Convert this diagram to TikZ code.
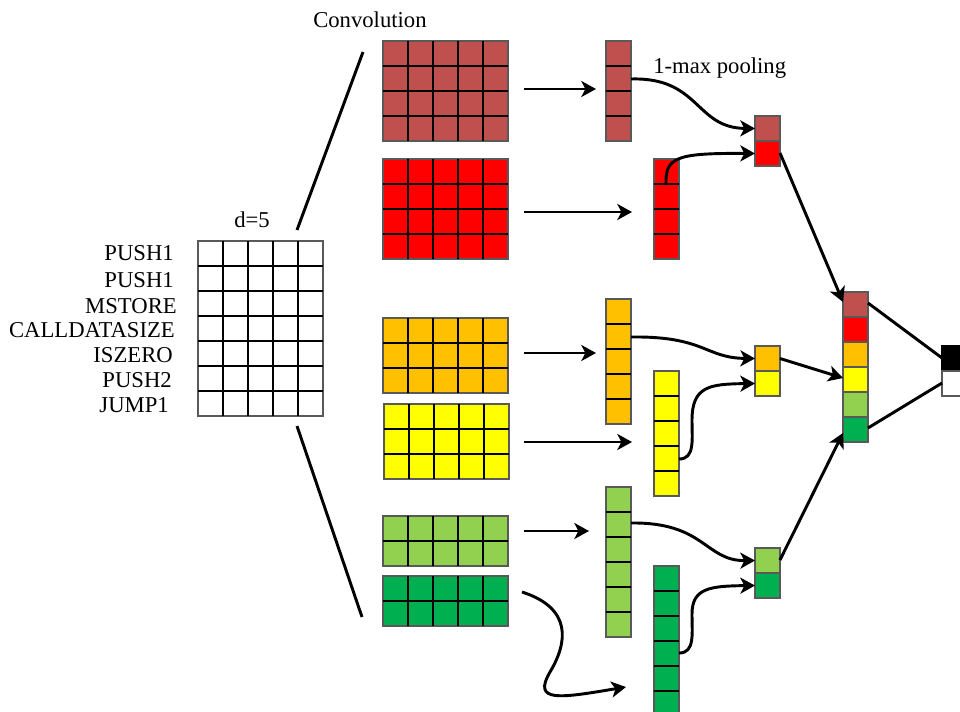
\documentclass[tikz,border=0pt]{standalone}
\usepackage{fontspec}
\setmainfont{Liberation Serif}
\usetikzlibrary{calc,arrows.meta}
\definecolor{brownc}{HTML}{C0504D}
\definecolor{redc}{HTML}{FF0000}
\definecolor{orangec}{HTML}{FFC000}
\definecolor{yellowc}{HTML}{FFFF00}
\definecolor{lgreenc}{HTML}{92D050}
\definecolor{dgreenc}{HTML}{00B050}
\tikzset{
  cellbox/.style={draw=black!65, line width=0.8pt, inner sep=0pt, outer sep=0pt},
  gridline/.style={draw=black, line width=0.8pt},
  lbl/.style={inner sep=0pt, font=\fontsize{17}{20}\selectfont},
  conn/.style={line width=2.2pt, -{Stealth[length=11pt,width=12pt,inset=3pt]}},
  plainline/.style={line width=2.2pt},
}
\newcommand{\fmap}[6]{%
  \node[cellbox, fill=#6, minimum width=#4*18.75pt, minimum height=#5*18.75pt, anchor=north west] (#1) at (#2,#3) {};%
  \pgfmathtruncatemacro{\nc}{#4-1}%
  \pgfmathtruncatemacro{\nr}{#5-1}%
  \ifnum\nc>0 \foreach \i in {1,...,\nc}{\draw[gridline] ($(#1.north west)+(\i*25,0)$) -- ($(#1.south west)+(\i*25,0)$);}\fi
  \ifnum\nr>0 \foreach \j in {1,...,\nr}{\draw[gridline] ($(#1.north west)+(0,\j*25)$) -- ($(#1.north east)+(0,\j*25)$);}\fi
}
\begin{document}
\begin{tikzpicture}[x=0.75pt,y=-0.75pt]
\clip (0,0) rectangle (960,711);
\fill[white] (0,0) rectangle (960,711);

% input matrix and labels
\fmap{inp}{198}{241}{5}{7}{white}
\node[lbl, anchor=base east] (l1) at (174,260) {PUSH1};
\node[lbl, anchor=base east] (l2) at (174,287) {PUSH1};
\node[lbl, anchor=base east] (l3) at (177,313) {MSTORE};
\node[lbl, anchor=base east] (l4) at (175,337) {CALLDATASIZE};
\node[lbl, anchor=base east] (l5) at (173,362) {ISZERO};
\node[lbl, anchor=base east] (l6) at (172,387) {PUSH2};
\node[lbl, anchor=base east] (l7) at (169,412) {JUMP1};
\node[lbl, anchor=base west] (dlab) at (234,227) {d=5};
\node[lbl, anchor=base west] (convlab) at (313,27) {Convolution};
\node[lbl, anchor=base west] (poollab) at (653,73) {1-max pooling};

% convolution bracket lines
\coordinate (cu1) at (297,230);
\coordinate (cu2) at (363,52);
\coordinate (cd1) at (297,426);
\coordinate (cd2) at (362,617);
\draw[plainline] (cu1) -- (cu2);
\draw[plainline] (cd1) -- (cd2);

% feature maps
\fmap{m1}{383}{41}{5}{4}{brownc}
\fmap{m2}{383}{159}{5}{4}{redc}
\fmap{m3}{383}{318}{5}{3}{orangec}
\fmap{m4}{384}{404}{5}{3}{yellowc}
\fmap{m5}{383}{516}{5}{2}{lgreenc}
\fmap{m6}{383}{576}{5}{2}{dgreenc}

% vectors
\fmap{v1}{606}{41}{1}{4}{brownc}
\fmap{v2}{654}{159}{1}{4}{redc}
\fmap{v3}{606}{299}{1}{5}{orangec}
\fmap{v4}{654}{371}{1}{5}{yellowc}
\fmap{v5}{606}{487}{1}{6}{lgreenc}
\fmap{v6}{654}{566}{1}{6}{dgreenc}

% pooled cells
\fmap{p1a}{755}{116}{1}{1}{brownc}
\fmap{p1b}{755}{141}{1}{1}{redc}
\fmap{p2a}{755}{346}{1}{1}{orangec}
\fmap{p2b}{755}{371}{1}{1}{yellowc}
\fmap{p3a}{755}{548}{1}{1}{lgreenc}
\fmap{p3b}{755}{573}{1}{1}{dgreenc}

% concatenated vector
\fmap{c1}{843}{292}{1}{1}{brownc}
\fmap{c2}{843}{317}{1}{1}{redc}
\fmap{c3}{843}{342}{1}{1}{orangec}
\fmap{c4}{843}{367}{1}{1}{yellowc}
\fmap{c5}{843}{392}{1}{1}{lgreenc}
\fmap{c6}{843}{417}{1}{1}{dgreenc}

% output
\node[cellbox, draw=black, fill=black, minimum width=18.75pt, minimum height=18.75pt, anchor=north west] (o1) at (942,346) {};
\node[cellbox, fill=white, minimum width=18.75pt, minimum height=18.75pt, anchor=north west] (o2) at (942,371) {};

% straight arrows map -> vector
\coordinate (a1s) at (524,89);  \coordinate (a1e) at (596,89);
\coordinate (a2s) at (524,212); \coordinate (a2e) at (632,212);
\coordinate (a3s) at (524,353); \coordinate (a3e) at (596,353);
\coordinate (a4s) at (524,442); \coordinate (a4e) at (632,442);
\coordinate (a5s) at (524,531); \coordinate (a5e) at (589,531);
\coordinate (a6s) at (522,592); \coordinate (a6e) at (626,687);
\draw[conn] (a1s) -- (a1e);
\draw[conn] (a2s) -- (a2e);
\draw[conn] (a3s) -- (a3e);
\draw[conn] (a4s) -- (a4e);
\draw[conn] (a5s) -- (a5e);
\draw[conn] (a6s) .. controls (572,608) and (568,642) .. (550,672) .. controls (532,703) and (560,698) .. (a6e);

% pooling curves
\draw[conn] (v1.east |- 0,79) .. controls (700,77) and (695,128) .. (p1a.west);
\draw[conn] (666,185) .. controls (665,157) and (676,153) .. (p1b.west);
\draw[conn] (v3.east |- 0,337) .. controls (705,336) and (705,358) .. (p2a.west);
\draw[conn] (v4.east |- 0,459) .. controls (695,459) and (692,440) .. (692,420) .. controls (692,386) and (710,384) .. (p2b.west);
\draw[conn] (v5.east |- 0,523) .. controls (705,522) and (705,561) .. (p3a.west);
\draw[conn] (v6.east |- 0,653) .. controls (695,653) and (692,634) .. (692,614) .. controls (692,588) and (710,586) .. (p3b.west);

% pooled -> concat
\draw[conn] (p1b.east |- 0,153) -- (c1.west |- 0,302);
\draw[conn] (p2a.east) -- (c4.west |- 0,378);
\draw[conn] (p3a.east |- 0,560) -- (c6.west |- 0,433);

% concat -> output
\draw[plainline] (c1.east |- 0,303) -- (o1.west |- 0,358);
\draw[plainline] (c6.east |- 0,428) -- (o2.west |- 0,383);
\end{tikzpicture}
\end{document}
